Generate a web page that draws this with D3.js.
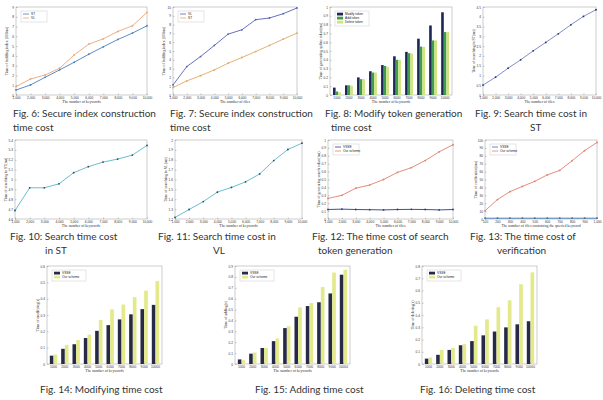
<!DOCTYPE html>
<html>
<head>
<meta charset="utf-8">
<script src="https://cdn.jsdelivr.net/npm/d3@7/dist/d3.min.js"></script>
<style>
  body { margin: 0; background: #fff; }
  svg { display: block; }
</style>
</head>
<body>
<svg id="fig" width="603" height="400"></svg>
<script>
// x categories
const keywords = [1000, 2000, 3000, 4000, 5000, 6000, 7000, 8000, 9000, 10000];
const files = [1000, 2000, 3000, 4000, 5000, 6000, 7000, 8000, 9000, 10000];
const queriedFiles = [100, 200, 300, 400, 500, 600, 700, 800, 900, 1000];

// Fig. 6 / 7 secure index construction
const fig6ST = [0.51, 1.03, 1.81, 2.57, 3.35, 4.17, 4.93, 5.68, 6.33, 7.08];
const fig6VL = [0.86, 1.64, 2.05, 2.74, 4.10, 5.20, 5.75, 6.50, 7.08, 8.45];
const fig7VL = [1.14, 3.23, 4.37, 5.63, 6.92, 7.41, 8.56, 8.75, 9.24, 9.89];
const fig7ST = [0.84, 1.60, 2.20, 2.85, 3.61, 4.26, 4.94, 5.63, 6.35, 7.03];

// Fig. 8 token generation
const fig8Modify = [0.084, 0.11, 0.20, 0.27, 0.34, 0.44, 0.49, 0.64, 0.79, 0.94];
const fig8Add    = [0.040, 0.11, 0.18, 0.255, 0.33, 0.40, 0.475, 0.55, 0.62, 0.715];
const fig8Delete = [0.030, 0.105, 0.18, 0.255, 0.32, 0.40, 0.47, 0.545, 0.62, 0.715];

// Fig. 9 - 11 search time
const fig9Search  = [0.51, 0.91, 1.37, 1.80, 2.26, 2.69, 3.13, 3.59, 4.02, 4.36];
const fig10Search = [4.686, 4.916, 4.916, 4.956, 5.069, 5.13, 5.176, 5.207, 5.247, 5.345];
const fig11Search = [1.216, 1.296, 1.376, 1.472, 1.52, 1.576, 1.656, 1.792, 1.904, 1.968];

// Fig. 12 / 13 search token and verification
const fig12Base = [0.12, 0.125, 0.12, 0.118, 0.115, 0.12, 0.122, 0.12, 0.115, 0.12];
const fig12Ours = [0.26, 0.30, 0.39, 0.43, 0.50, 0.59, 0.65, 0.74, 0.85, 0.94];
const fig13Base = [1, 1, 1, 1, 1, 1, 1, 1, 1, 1];
const fig13Ours = [10.4, 24.6, 34.6, 41.2, 47.7, 55.8, 61.5, 73.8, 86.5, 96.9];

// Fig. 14 - 16 update time
const fig14Base = [0.051, 0.093, 0.121, 0.159, 0.203, 0.238, 0.273, 0.304, 0.336, 0.362];
const fig14Ours = [0.058, 0.117, 0.147, 0.180, 0.269, 0.334, 0.364, 0.409, 0.449, 0.509];
const fig15Base = [0.042, 0.095, 0.147, 0.210, 0.330, 0.434, 0.532, 0.567, 0.648, 0.820];
const fig15Ours = [0.035, 0.105, 0.147, 0.235, 0.347, 0.520, 0.560, 0.707, 0.840, 0.865];
const fig16Base = [0.044, 0.075, 0.115, 0.153, 0.187, 0.234, 0.265, 0.299, 0.324, 0.349];
const fig16Ours = [0.053, 0.115, 0.131, 0.162, 0.312, 0.364, 0.464, 0.520, 0.651, 0.748];

// y tick labels
const ticks0to9 = [0, 1, 2, 3, 4, 5, 6, 7, 8, 9];
const ticks0to10 = [0, 1, 2, 3, 4, 5, 6, 7, 8, 9, 10];
const ticks0to1 = [0, 0.1, 0.2, 0.3, 0.4, 0.5, 0.6, 0.7, 0.8, 0.9, 1];
const ticksFig9 = [0, 0.5, 1, 1.5, 2, 2.5, 3, 3.5, 4, 4.5];
const ticksFig10 = [4.6, 4.7, 4.8, 4.9, 5, 5.1, 5.2, 5.3, 5.4];
const ticksFig11 = [1.2, 1.3, 1.4, 1.5, 1.6, 1.7, 1.8, 1.9, 2];
const ticksFig13 = [0, 10, 20, 30, 40, 50, 60, 70, 80, 90, 100];
const ticksFig14 = [0, 0.1, 0.2, 0.3, 0.4, 0.5, 0.6];
const ticksFig15 = [0, 0.1, 0.2, 0.3, 0.4, 0.5, 0.6, 0.7, 0.8, 0.9];
const ticksFig16 = [0, 0.1, 0.2, 0.3, 0.4, 0.5, 0.6, 0.7, 0.8];

const svg = d3.select('#fig');
const NAVY = '#262a48', PALE = '#e4ea8c';

const panels = [
  { l: 16, r: 147, t: 7, b: 95, type: 'line', x: keywords, yTicks: ticks0to9,
    xTitle: 'The number of keywords', yTitle: 'Time of building index (100ms)',
    series: [{ name: 'ST', v: fig6ST, c: '#4a7fc1' }, { name: 'VL', v: fig6VL, c: '#eba579' }],
    legend: 'line', cap: [['Fig. 6: Secure index construction', 13, 117], ['time cost', 13, 131]] },
  { l: 173, r: 297, t: 7, b: 95, type: 'line', x: files, yTicks: ticks0to10,
    xTitle: 'The number of files', yTitle: 'Time of building index (100ms)',
    series: [{ name: 'VL', v: fig7VL, c: '#5661b3' }, { name: 'ST', v: fig7ST, c: '#e3a865' }],
    legend: 'line', cap: [['Fig. 7: Secure index construction', 170, 117], ['time cost', 170, 131]] },
  { l: 330, r: 452, t: 7, b: 95, type: 'bar', x: keywords, yTicks: ticks0to1,
    xTitle: 'The number of keywords', yTitle: 'Time of generating update token(ms)',
    series: [{ name: 'Modify token', v: fig8Modify, c: '#1e2657' }, { name: 'Add token', v: fig8Add, c: '#3f9d52' },
             { name: 'Delete token', v: fig8Delete, c: '#cfe47a' }],
    legend: 'bar', cap: [['Fig. 8: Modify token generation', 325, 117], ['time cost', 331, 131]] },
  { l: 483, r: 596, t: 7, b: 95, type: 'line', x: files, yTicks: ticksFig9,
    xTitle: 'The number of files', yTitle: 'Time of searching in ST(ms)',
    series: [{ name: 'ST', v: fig9Search, c: '#7483bb', m: '#2e3160' }],
    cap: [['Fig. 9: Search time cost in', 475, 117], ['ST', 530, 131]] },
  { l: 15, r: 147, t: 140, b: 219, type: 'line', x: keywords, yTicks: ticksFig10,
    xTitle: 'The number of keywords', yTitle: 'Time of searching in ST(ms)',
    series: [{ name: 'ST', v: fig10Search, c: '#5ab6c9', m: '#2b4a5e' }],
    cap: [['Fig. 10: Search time cost', 10, 240], ['in ST', 45, 254]] },
  { l: 175, r: 302, t: 140, b: 219, type: 'line', x: keywords, yTicks: ticksFig11,
    xTitle: 'The number of keywords', yTitle: 'Time of searching in VL(ms)',
    series: [{ name: 'VL', v: fig11Search, c: '#5ab6c9', m: '#2b4a5e' }],
    cap: [['Fig. 11: Search time cost in', 158, 240], ['VL', 213, 254]] },
  { l: 328, r: 453, t: 140, b: 219, type: 'line', x: files, yTicks: ticks0to1,
    xTitle: 'The number of files', yTitle: 'Time of generating search token(ms)',
    series: [{ name: 'VSSE', v: fig12Base, c: '#2d3c85' }, { name: 'Our scheme', v: fig12Ours, c: '#e2806c' }],
    legend: 'line', cap: [['Fig. 12: The time cost of search', 312, 240], ['token generation', 318, 254]] },
  { l: 485, r: 597, t: 140, b: 219, type: 'line', x: queriedFiles, yTicks: ticksFig13,
    xTitle: 'The number of files containing the queried keyword', yTitle: 'Time of verification(ms)',
    series: [{ name: 'VSSE', v: fig13Base, c: '#3a6fb0' }, { name: 'Our scheme', v: fig13Ours, c: '#e2806c' }],
    legend: 'line', cap: [['Fig. 13: The time cost of', 470, 240], ['verification', 497, 254]] },
  { l: 47, r: 162, t: 266, b: 364, type: 'bar', x: keywords, yTicks: ticksFig14,
    xTitle: 'The number of keywords', yTitle: 'Time of modifying(s)',
    series: [{ name: 'VSSE', v: fig14Base, c: NAVY }, { name: 'Our scheme', v: fig14Ours, c: PALE }],
    legend: 'bar', cap: [['Fig. 14: Modifying time cost', 40, 393]] },
  { l: 235, r: 350, t: 266, b: 364, type: 'bar', x: keywords, yTicks: ticksFig15,
    xTitle: 'The number of keywords', yTitle: 'Time of adding(s)',
    series: [{ name: 'VSSE', v: fig15Base, c: NAVY }, { name: 'Our scheme', v: fig15Ours, c: PALE }],
    legend: 'bar', cap: [['Fig. 15: Adding time cost', 255, 393]] },
  { l: 422, r: 537, t: 266, b: 364, type: 'bar', x: keywords, yTicks: ticksFig16,
    xTitle: 'The number of keywords', yTitle: 'Time of deleting(s)',
    series: [{ name: 'VSSE', v: fig16Base, c: NAVY }, { name: 'Our scheme', v: fig16Ours, c: PALE }],
    legend: 'bar', cap: [['Fig. 16: Deleting time cost', 420, 393]] }
];

const fmt = d => String(+d.toFixed(2));

function drawPanel(p) {
  const g = svg.append('g');
  const yTop = p.yTicks[p.yTicks.length - 1];
  const y = d3.scaleLinear().domain([p.yTicks[0], yTop]).range([p.b, p.t]);
  let x;
  if (p.type === 'bar') {
    x = d3.scaleBand().domain(p.x).range([p.l, p.r]).paddingInner(0.35).paddingOuter(0.25);
  } else {
    x = d3.scaleLinear().domain(d3.extent(p.x)).range([p.l, p.r]);
  }

  g.append('rect')
    .attr('x', p.l).attr('y', p.t)
    .attr('width', p.r - p.l).attr('height', p.b - p.t)
    .attr('fill', '#fff').attr('stroke', '#9a9a9a').attr('stroke-width', 0.5);

  // marks
  if (p.type === 'bar') {
    const inner = d3.scaleBand().domain(d3.range(p.series.length)).range([0, x.bandwidth()]);
    p.series.forEach((s, i) => {
      g.append('g').selectAll('rect')
        .data(s.v)
        .join('rect')
        .attr('x', (d, j) => x(p.x[j]) + inner(i))
        .attr('y', d => y(d))
        .attr('width', inner.bandwidth())
        .attr('height', d => y(p.yTicks[0]) - y(d))
        .attr('fill', s.c);
    });
  } else {
    const line = d3.line().x((d, j) => x(p.x[j])).y(d => y(d));
    p.series.forEach(s => {
      g.append('path')
        .datum(s.v)
        .attr('d', line)
        .attr('fill', 'none')
        .attr('stroke', s.c)
        .attr('stroke-width', 0.9);
      g.append('g').selectAll('circle')
        .data(s.v)
        .join('circle')
        .attr('cx', (d, j) => x(p.x[j]))
        .attr('cy', d => y(d))
        .attr('r', 0.9)
        .attr('fill', s.m || s.c);
    });
  }

  // axes
  const xAxis = d3.axisBottom(x).tickSizeInner(-1.5).tickSizeOuter(0).tickPadding(2);
  if (p.type !== 'bar') xAxis.tickValues(p.x);
  const yAxis = d3.axisLeft(y).tickValues(p.yTicks).tickFormat(fmt)
    .tickSizeInner(-1.5).tickSizeOuter(0).tickPadding(2);

  [[xAxis, `translate(0,${p.b})`], [yAxis, `translate(${p.l},0)`]].forEach(([ax, tr]) => {
    const a = g.append('g').attr('transform', tr).call(ax);
    a.select('.domain').remove();
    a.selectAll('line').attr('stroke', '#777').attr('stroke-width', 0.4);
    a.selectAll('text').attr('font-size', 3.2).attr('fill', '#333')
      .attr('font-family', 'Liberation Sans, sans-serif');
  });

  g.append('text')
    .attr('x', (p.l + p.r) / 2).attr('y', p.b + 7.5)
    .attr('text-anchor', 'middle')
    .attr('font-size', 3.8).attr('fill', '#333')
    .attr('font-family', 'Liberation Serif, serif')
    .text(p.xTitle);
  g.append('text')
    .attr('transform', `translate(${p.l - 8},${(p.t + p.b) / 2}) rotate(-90)`)
    .attr('text-anchor', 'middle')
    .attr('font-size', 3.8).attr('fill', '#333')
    .attr('font-family', 'Liberation Serif, serif')
    .text(p.yTitle);

  // legend
  if (p.legend) {
    const lx = p.l + 5, ly = p.t + 4, rowH = 4;
    const lw = p.legend === 'bar' ? 34 : 26;
    const lg = g.append('g');
    lg.append('rect')
      .attr('x', lx).attr('y', ly)
      .attr('width', lw).attr('height', p.series.length * rowH + 3)
      .attr('fill', '#fff').attr('stroke', '#aaa').attr('stroke-width', 0.3);
    p.series.forEach((s, i) => {
      const cy = ly + 3 + i * rowH;
      if (p.legend === 'bar') {
        lg.append('rect').attr('x', lx + 2).attr('y', cy - 1.3)
          .attr('width', 6).attr('height', 2.8).attr('fill', s.c);
      } else {
        lg.append('line').attr('x1', lx + 2).attr('x2', lx + 8)
          .attr('y1', cy).attr('y2', cy)
          .attr('stroke', s.c).attr('stroke-width', 0.8);
      }
      lg.append('text').attr('x', lx + 10).attr('y', cy + 1.1)
        .attr('font-size', 3.2).attr('fill', '#222')
        .attr('font-family', 'Liberation Sans, sans-serif')
        .text(s.name);
    });
  }

  // caption
  p.cap.forEach(([txt, cx, cy]) => {
    g.append('text')
      .attr('x', cx).attr('y', cy)
      .attr('font-size', 10).attr('fill', '#333')
      .attr('font-family', 'Lato, "Open Sans", sans-serif')
      .text(txt);
  });
}

panels.forEach(drawPanel);
</script>
</body>
</html>
